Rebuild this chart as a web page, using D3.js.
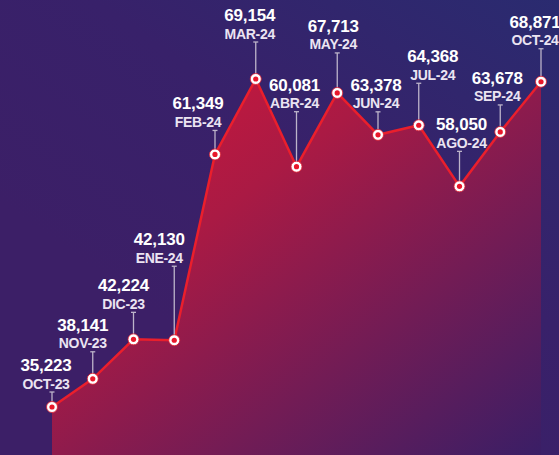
<!DOCTYPE html>
<html>
<head>
<meta charset="utf-8">
<script src="https://cdn.jsdelivr.net/npm/d3@7"></script>
<style>
  html, body { margin: 0; padding: 0; background: #3a1f68; }
  svg { display: block; }
  .val { font-family: "Liberation Sans", Arial, sans-serif; font-weight: 700; font-size: 17px; fill: #ffffff; letter-spacing: -0.2px; }
  .mon { font-family: "Liberation Sans", Arial, sans-serif; font-weight: 700; font-size: 14px; fill: #ebe4f2; letter-spacing: -0.3px; }
</style>
</head>
<body>
<svg id="chart" width="559" height="455"></svg>
<script>
// data
const months = ["OCT-23", "NOV-23", "DIC-23", "ENE-24", "FEB-24", "MAR-24", "ABR-24",
                "MAY-24", "JUN-24", "JUL-24", "AGO-24", "SEP-24", "OCT-24"];
const values = [35223, 38141, 42224, 42130, 61349, 69154, 60081,
                67713, 63378, 64368, 58050, 63678, 68871];
const valueLabels = ["35,223", "38,141", "42,224", "42,130", "61,349", "69,154", "60,081",
                     "67,713", "63,378", "64,368", "58,050", "63,678", "68,871"];

// label placement: horizontal shift of the label and length of the leader line
const labelDx = [-6, -10, -10, -15, -17, -6, -2, -4, -2, 14, 2, -3, -6];
const leaderLen = [15, 27, 27, 74, 24, 37, 55, 40, 23, 42, 35, 27, 33];

const svg = d3.select("#chart");
const width = +svg.attr("width");
const height = +svg.attr("height");

const data = months.map((m, i) => ({month: m, value: values[i], label: valueLabels[i], dx: labelDx[i], lead: leaderLen[i]}));

const x = d3.scalePoint().domain(months).range([52, 541]);
const y = d3.scaleLinear().domain(d3.extent(values)).range([407, 79]);

const defs = svg.append("defs");
const bg = defs.append("linearGradient").attr("id", "bg")
    .attr("x1", 1).attr("y1", 0).attr("x2", 0.35).attr("y2", 0.75);
bg.append("stop").attr("offset", "0%").attr("stop-color", "#2a2b70");
bg.append("stop").attr("offset", "55%").attr("stop-color", "#38216a");
bg.append("stop").attr("offset", "100%").attr("stop-color", "#3c1f67");

const fill = defs.append("linearGradient").attr("id", "areaFill")
    .attr("x1", 0).attr("y1", 0).attr("x2", 1).attr("y2", 1);
fill.append("stop").attr("offset", "0%").attr("stop-color", "#d4173a");
fill.append("stop").attr("offset", "35%").attr("stop-color", "#aa1a44");
fill.append("stop").attr("offset", "100%").attr("stop-color", "#3a1e66");

svg.append("rect").attr("width", width).attr("height", height).attr("fill", "url(#bg)");

const area = d3.area()
    .x(d => x(d.month))
    .y0(height)
    .y1(d => y(d.value));
svg.append("path").datum(data).attr("d", area).attr("fill", "url(#areaFill)");

const line = d3.line().x(d => x(d.month)).y(d => y(d.value));
svg.append("path").datum(data).attr("d", line)
    .attr("fill", "none").attr("stroke", "#ea1f2c").attr("stroke-width", 2.5)
    .attr("stroke-linejoin", "miter");

// leaders + labels
const lab = svg.selectAll("g.lab").data(data).join("g").attr("class", "lab");

lab.append("line")
    .attr("x1", d => x(d.month)).attr("x2", d => x(d.month))
    .attr("y1", d => y(d.value) - d.lead).attr("y2", d => y(d.value))
    .attr("stroke", "#bdb4ca").attr("stroke-width", 1.3);
lab.append("line")
    .attr("x1", d => x(d.month) - 2.5).attr("x2", d => x(d.month) + 2.5)
    .attr("y1", d => y(d.value) - d.lead).attr("y2", d => y(d.value) - d.lead)
    .attr("stroke", "#bdb4ca").attr("stroke-width", 1.3);

lab.append("text").attr("class", "mon")
    .attr("text-anchor", "middle")
    .attr("x", d => x(d.month) + d.dx)
    .attr("y", d => y(d.value) - d.lead - 3.5)
    .text(d => d.month);
lab.append("text").attr("class", "val")
    .attr("text-anchor", "middle")
    .attr("x", d => x(d.month) + d.dx)
    .attr("y", d => y(d.value) - d.lead - 21)
    .text(d => d.label);

// markers
const pts = svg.selectAll("g.pt").data(data).join("g").attr("class", "pt")
    .attr("transform", d => `translate(${x(d.month)},${y(d.value)})`);
pts.append("circle").attr("r", 5.5).attr("fill", "#ffffff").attr("stroke", "#e01c2c").attr("stroke-width", 0.8);
pts.append("circle").attr("r", 2.6).attr("fill", "#e8182a");
</script>
</body>
</html>
